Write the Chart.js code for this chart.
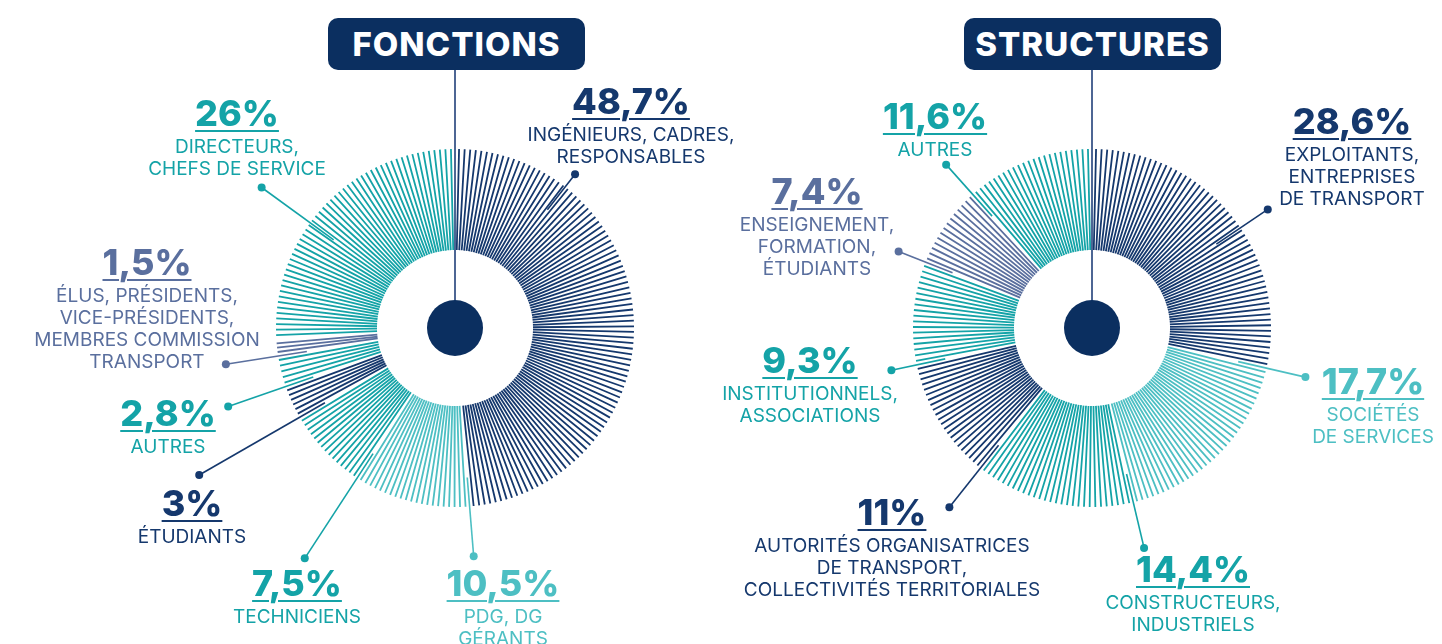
<!DOCTYPE html>
<html lang="fr">
<head>
<meta charset="utf-8">
<script src="https://cdn.jsdelivr.net/npm/chart.js@4.4.1/dist/chart.umd.min.js"></script>
<style>
    body { margin: 0; background: #fff; font-family: Inter, 'Noto Sans', sans-serif; }
    #wrap { position: relative; width: 1442px; height: 644px; overflow: hidden; }
    #chart { position: absolute; left: 0; top: 0; }
    .title {
        position: absolute; top: 18px; width: 257px; height: 52px;
        background: #0b2f60; border-radius: 10px; color: #fff;
        font-weight: 800; font-size: 33px; letter-spacing: 1px;
        display: flex; align-items: center; justify-content: center;
    }
    .label { position: absolute; transform: translateX(-50%); text-align: center; white-space: nowrap; }
    .pct {
        font-weight: 800; font-size: 36px; line-height: 40px;
        text-decoration: underline; text-decoration-thickness: 2px; text-underline-offset: 4px;
    }
    .name { font-size: 19px; line-height: 22px; margin-top: 3px; }
</style>
</head>
<body>
<div id="wrap">
    <canvas id="chart" width="1442" height="644"></canvas>
</div>
<script>
// values, clockwise from 12 o'clock
const fonctionsCategories = [
    ['INGÉNIEURS, CADRES,', 'RESPONSABLES'],
    ['PDG, DG', 'GÉRANTS'],
    ['TECHNICIENS'],
    ['ÉTUDIANTS'],
    ['AUTRES'],
    ['ÉLUS, PRÉSIDENTS,', 'VICE-PRÉSIDENTS,', 'MEMBRES COMMISSION', 'TRANSPORT'],
    ['DIRECTEURS,', 'CHEFS DE SERVICE'],
]
const fonctionsValues = [48.7, 10.5, 7.5, 3, 2.8, 1.5, 26]

const structuresCategories = [
    ['EXPLOITANTS,', 'ENTREPRISES', 'DE TRANSPORT'],
    ['SOCIÉTÉS', 'DE SERVICES'],
    ['CONSTRUCTEURS,', 'INDUSTRIELS'],
    ['AUTORITÉS ORGANISATRICES', 'DE TRANSPORT,', 'COLLECTIVITÉS TERRITORIALES'],
    ['INSTITUTIONNELS,', 'ASSOCIATIONS'],
    ['ENSEIGNEMENT,', 'FORMATION,', 'ÉTUDIANTS'],
    ['AUTRES'],
]
const structuresValues = [28.6, 17.7, 14.4, 11, 9.3, 7.4, 11.6]

// styles
const NAVY = '#15386d'
const TEAL = '#14a3a7'
const LIGHT = '#4dbfc3'
const SLATE = '#5a6f9e'
const STEM = '#4d6694'

const R_IN = 78
const R_OUT = 179
const STEP = 1.8      // degrees between two rays
const GAP = 2.6       // degrees left empty between two groups
const LEADER_END = 150

const panels = [
    {
        title: 'FONCTIONS', cx: 455, cy: 328, boxLeft: 328,
        categories: fonctionsCategories, values: fonctionsValues,
        colors: [NAVY, LIGHT, TEAL, NAVY, TEAL, SLATE, TEAL],
        labelPos: [[631, 101], [503, 583], [297, 583], [192, 503], [168, 413], [147, 262], [237, 113]],
        leaderAngle: [38, null, null, null, null, null, 306],
        dotRadius: [195, 229, 275, 295, 240, 232, 239],
    },
    {
        title: 'STRUCTURES', cx: 1092, cy: 328, boxLeft: 964,
        categories: structuresCategories, values: structuresValues,
        colors: [NAVY, LIGHT, TEAL, NAVY, TEAL, SLATE, TEAL],
        labelPos: [[1352, 121], [1373, 381], [1193, 569], [892, 512], [810, 360], [817, 191], [935, 116]],
        leaderAngle: [56, null, null, null, null, null, null],
        dotRadius: [212, 219, 226, 229, 205, 208, 219],
    },
]

function polar(p, deg, r) {
    const a = deg * Math.PI / 180
    return { x: p.cx + r * Math.sin(a), y: p.cy - r * Math.cos(a) }
}

function buildDatasets(p) {
    const front = []
    const rays = []
    const total = p.values.reduce((a, b) => a + b, 0)
    let acc = 0
    p.values.forEach((v, i) => {
        const a0 = acc / total * 360
        const a1 = (acc + v) / total * 360
        acc += v
        const span = a1 - a0 - GAP
        const n = Math.max(1, Math.round(span / STEP) + 1)
        const pts = []
        for (let k = 0; k < n; k++) {
            const a = n === 1 ? (a0 + a1) / 2 : a0 + GAP / 2 + span * k / (n - 1)
            pts.push(polar(p, a, R_IN), polar(p, a, R_OUT), { x: null, y: null })
        }
        rays.push({
            data: pts, showLine: true, borderColor: p.colors[i], borderWidth: 1.8,
            pointRadius: 0, borderCapStyle: 'butt',
        })

        // leader line with its dot
        const la = p.leaderAngle[i] === null ? a0 : p.leaderAngle[i]
        front.push({
            data: [polar(p, la, p.dotRadius[i]), polar(p, la, LEADER_END)],
            showLine: true, borderColor: p.colors[i], borderWidth: 1.6,
            pointRadius: [4, 0], pointBackgroundColor: p.colors[i], pointBorderWidth: 0,
        })
    })

    // stem from the title box and the centre disc
    front.push({
        data: [{ x: p.cx, y: 70 }, { x: p.cx, y: p.cy }],
        showLine: true, borderColor: STEM, borderWidth: 2, pointRadius: 0,
    })
    front.unshift({
        data: [{ x: p.cx, y: p.cy }],
        pointRadius: 28, pointBackgroundColor: '#0b2f60', pointBorderWidth: 0,
    })
    return front.concat(rays)
}

function addLabels(p) {
    const wrap = document.getElementById('wrap')
    const box = document.createElement('div')
    box.className = 'title'
    box.style.left = p.boxLeft + 'px'
    box.innerText = p.title
    wrap.appendChild(box)

    p.values.forEach((v, i) => {
        const el = document.createElement('div')
        el.className = 'label'
        el.style.left = p.labelPos[i][0] + 'px'
        el.style.top = (p.labelPos[i][1] - 20) + 'px'
        el.style.color = p.colors[i]
        const pct = document.createElement('div')
        pct.className = 'pct'
        pct.innerText = String(v).replace('.', ',') + '%'
        el.appendChild(pct)
        const name = document.createElement('div')
        name.className = 'name'
        name.innerHTML = p.categories[i].join('<br>')
        el.appendChild(name)
        wrap.appendChild(el)
    })
}

let datasets = []
panels.forEach(p => {
    datasets = datasets.concat(buildDatasets(p))
    addLabels(p)
})

new Chart(document.getElementById('chart'), {
    type: 'scatter',
    data: { datasets: datasets },
    options: {
        responsive: false,
        animation: false,
        events: [],
        layout: { padding: 0, autoPadding: false },
        plugins: { legend: { display: false }, tooltip: { enabled: false } },
        scales: {
            x: { type: 'linear', min: 0, max: 1442, display: false },
            y: { type: 'linear', min: 0, max: 644, reverse: true, display: false },
        },
    },
})
</script>
</body>
</html>
